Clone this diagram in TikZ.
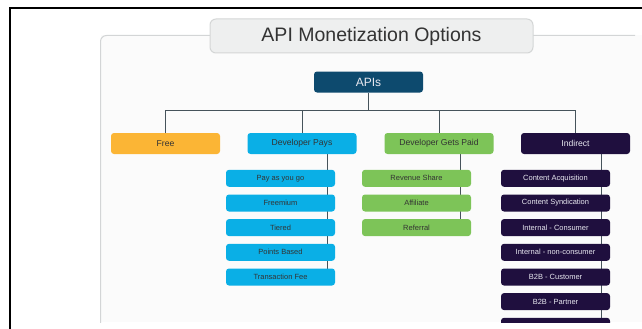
\documentclass[tikz,border=0pt]{standalone}
\usepackage{fontspec}
\setmainfont{Liberation Sans}
\usetikzlibrary{backgrounds}
\definecolor{apiblue}{HTML}{0D4A6E}
\definecolor{freeorg}{HTML}{FBB535}
\definecolor{paysblue}{HTML}{0AAFE6}
\definecolor{paidgreen}{HTML}{7DC458}
\definecolor{indpurple}{HTML}{1F0F3E}
\definecolor{linegray}{HTML}{46535B}
\definecolor{framegray}{HTML}{D3D5D6}
\definecolor{titlefill}{HTML}{EEEFEF}
\definecolor{titleedge}{HTML}{D4D6D6}
\definecolor{panelfill}{HTML}{FBFBFB}
\definecolor{darktext}{HTML}{333333}
\definecolor{lighttext}{HTML}{E8E8F0}
\tikzset{
  box/.style={rectangle, rounded corners=3pt, minimum width=109pt, minimum height=21pt, inner sep=0pt, font=\fontsize{8.6}{10}\selectfont},
  sub/.style={rectangle, rounded corners=3pt, minimum width=109pt, minimum height=17pt, inner sep=0pt, font=\fontsize{7.5}{9}\selectfont},
  lightbox/.style={text=darktext},
  darkbox/.style={text=lighttext},
  conn/.style={draw=linegray, line width=0.9pt},
}
\begin{document}
\begin{tikzpicture}[x=1pt,y=-1pt]
\useasboundingbox (0,0) rectangle (642,329);
\begin{scope}
\clip (0,0) rectangle (642,322);
\node[rectangle, rounded corners=6pt, fill=titlefill, draw=titleedge, line width=1pt, minimum width=323pt, minimum height=34pt, inner sep=0pt, text=darktext, font=\fontsize{19.5}{22}\selectfont] (title) at (371.5,36) {API Monetization Options};
\node[box, fill=apiblue, darkbox, font=\fontsize{12}{14}\selectfont] (apis) at (368.5,82) {APIs};
\node[box, fill=freeorg, lightbox] (free) at (165.5,143.5) {Free};
\node[box, fill=paysblue, lightbox] (pays) at (302,143.5) {Developer Pays};
\node[box, fill=paidgreen, lightbox] (paid) at (439,143.5) {Developer Gets Paid};
\node[box, fill=indpurple, darkbox] (ind) at (575.5,143.5) {Indirect};
% Developer Pays children
\node[sub, fill=paysblue, lightbox] (p1) at (280.5,178.3) {Pay as you go};
\node[sub, fill=paysblue, lightbox] (p2) at (280.5,203) {Freemium};
\node[sub, fill=paysblue, lightbox] (p3) at (280.5,227.6) {Tiered};
\node[sub, fill=paysblue, lightbox] (p4) at (280.5,252.3) {Points Based};
\node[sub, fill=paysblue, lightbox] (p5) at (280.5,277) {Transaction Fee};
% Developer Gets Paid children
\node[sub, fill=paidgreen, lightbox] (g1) at (416.5,178.3) {Revenue Share};
\node[sub, fill=paidgreen, lightbox] (g2) at (416.5,203) {Affiliate};
\node[sub, fill=paidgreen, lightbox] (g3) at (416.5,227.6) {Referral};
% Indirect children
\node[sub, fill=indpurple, darkbox] (i1) at (555.5,178.3) {Content Acquisition};
\node[sub, fill=indpurple, darkbox] (i2) at (555.5,203) {Content Syndication};
\node[sub, fill=indpurple, darkbox] (i3) at (555.5,227.6) {Internal - Consumer};
\node[sub, fill=indpurple, darkbox] (i4) at (555.5,252.3) {Internal - non-consumer};
\node[sub, fill=indpurple, darkbox] (i5) at (555.5,277) {B2B - Customer};
\node[sub, fill=indpurple, darkbox] (i6) at (555.5,301.6) {B2B - Partner};
\node[sub, fill=indpurple, darkbox] (i7) at (555.5,326.3) {};
\end{scope}
\begin{scope}[on background layer]
\clip (0,0) rectangle (642,322);
\fill[panelfill] (100.5,35.5) rectangle (642,322);
\draw[framegray, line width=1pt, rounded corners=6pt] (635,35.5) -- (100.5,35.5) -- (100.5,330);
\coordinate (bus) at (368.5,110);
\draw[conn] (apis) -- (bus);
\draw[conn] (free.north) |- (bus);
\draw[conn] (pays.north) |- (bus);
\draw[conn] (paid.north) |- (bus);
\draw[conn] (ind.north) |- (bus);
\path (pays.south) ++(25,0) coordinate (pt);
\path (paid.south) ++(21,0) coordinate (gt);
\path (ind.south) ++(26,0) coordinate (it);
\draw[conn] (pt) -- (pt |- p5.center);
\draw[conn] (gt) -- (gt |- g3.center);
\draw[conn] (it) -- (it |- i7.south);
\end{scope}
\draw[black, line width=2pt, line join=miter] (9.5,329) -- (9.5,8.5) -- (642,8.5);
\end{tikzpicture}
\end{document}
